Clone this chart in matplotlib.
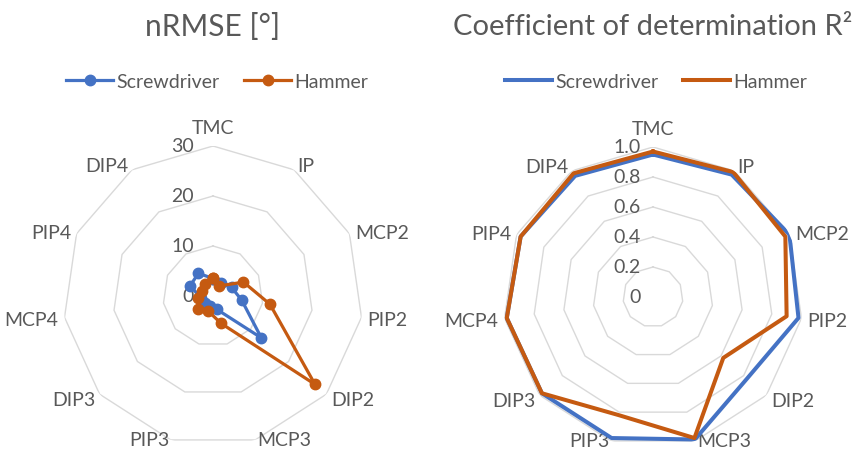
import numpy as np
import matplotlib.pyplot as plt

plt.rcParams['font.family'] = ['Lato', 'DejaVu Sans']

joints = ['TMC', 'IP', 'MCP2', 'PIP2', 'DIP2', 'MCP3', 'PIP3', 'DIP3', 'MCP4', 'PIP4', 'DIP4']

# nRMSE [deg]
nrmse_screwdriver = [3.5, 3.0, 4.1, 5.8, 12.8, 2.8, 2.0, 2.0, 2.5, 5.0, 5.4]
nrmse_hammer = [3.6, 2.4, 6.7, 11.5, 27.0, 5.7, 3.2, 3.9, 3.0, 2.5, 2.8]
nrmse_ticks = [0, 10, 20, 30]

# coefficient of determination
r2_screwdriver = [0.95, 0.97, 1.00, 0.98, 0.83, 0.99, 0.98, 0.98, 0.985, 0.97, 0.96]
r2_hammer = [0.97, 0.99, 0.97, 0.90, 0.62, 0.98, 0.82, 0.98, 0.985, 0.97, 0.98]
r2_ticks = [0, 0.2, 0.4, 0.6, 0.8, 1.0]
r2_tick_labels = ['0', '0.2', '0.4', '0.6', '0.8', '1.0']

BLUE = '#4472C4'
ORANGE = '#C55A11'
GREY = '#595959'
GRID = '#D9D9D9'

n = len(joints)
angles = np.linspace(0, 2 * np.pi, n, endpoint=False)
loop = np.append(angles, angles[0])


def closed(values):
    return np.append(values, values[0])


def radar(ax, ticks, tick_labels, tick_dx):
    ax.set_theta_zero_location('N')
    ax.set_theta_direction(-1)
    ax.set_ylim(0, ticks[-1])
    ax.grid(False)
    ax.set_xticks([])
    ax.set_yticks([])
    ax.spines['polar'].set_visible(False)
    ax.patch.set_alpha(0)

    # polygon rings
    for t in ticks[1:]:
        ax.plot(loop, [t] * (n + 1), color=GRID, lw=1.0, zorder=0)

    # radial value labels
    for t, lab in zip(ticks, tick_labels):
        ax.annotate(lab, xy=(0, t), xytext=(tick_dx, 0), textcoords='offset pixels',
                    ha='right', va='center', fontsize=14, color=GREY)

    # category labels
    rmax = ticks[-1]
    for a, name in zip(angles, joints):
        s, c = np.sin(a), np.cos(a)
        if abs(s) < 0.05:
            ax.annotate(name, xy=(a, rmax), xytext=(0, 10), textcoords='offset pixels',
                        ha='center', va='bottom', fontsize=14, color=GREY)
            continue
        ha = 'left' if s > 0 else 'right'
        dy = 6 * c - 1 if c > -0.9 else 0
        ax.annotate(name, xy=(a, rmax), xytext=(6 * s, dy), textcoords='offset pixels',
                    ha=ha, va='center', fontsize=14, color=GREY)


fig = plt.figure(figsize=(8.61, 4.56), dpi=100)

# left: nRMSE
ax1 = fig.add_axes([63 / 861, 1 - 447 / 456, 300 / 861, 300 / 456], projection='polar')
radar(ax1, nrmse_ticks, [str(t) for t in nrmse_ticks], -19)
l1, = ax1.plot(loop, closed(nrmse_screwdriver), color=BLUE, lw=2.3,
               marker='o', markersize=7.5, zorder=3)
l2, = ax1.plot(loop, closed(nrmse_hammer), color=ORANGE, lw=2.3,
               marker='o', markersize=7.5, zorder=4)

# right: R^2
ax2 = fig.add_axes([503 / 861, 1 - 448 / 456, 300 / 861, 300 / 456], projection='polar')
radar(ax2, r2_ticks, r2_tick_labels, -12)
r1, = ax2.plot(loop, closed(r2_screwdriver), color=BLUE, lw=2.9, zorder=3)
r2, = ax2.plot(loop, closed(r2_hammer), color=ORANGE, lw=2.9, zorder=4)

# titles
fig.text(213 / 861, 1 - 27 / 456, 'nRMSE [°]', ha='center', va='center',
         fontsize=21.5, color=GREY)
fig.text(653 / 861, 1 - 27 / 456, 'Coefficient of determination R²', ha='center',
         va='center', fontsize=21, color=GREY)

# legends
fig.legend([l1, l2], ['Screwdriver', 'Hammer'], loc='center',
           bbox_to_anchor=(217 / 861, 1 - 82 / 456), ncol=2, frameon=False,
           handlelength=2.4, handletextpad=0.15, columnspacing=1.3,
           fontsize=14, labelcolor=GREY)
fig.legend([r1, r2], ['Screwdriver', 'Hammer'], loc='center',
           bbox_to_anchor=(656 / 861, 1 - 82 / 456), ncol=2, frameon=False,
           handlelength=2.4, handletextpad=0.15, columnspacing=1.3,
           fontsize=14, labelcolor=GREY)

fig.savefig('out.png', dpi=100)
